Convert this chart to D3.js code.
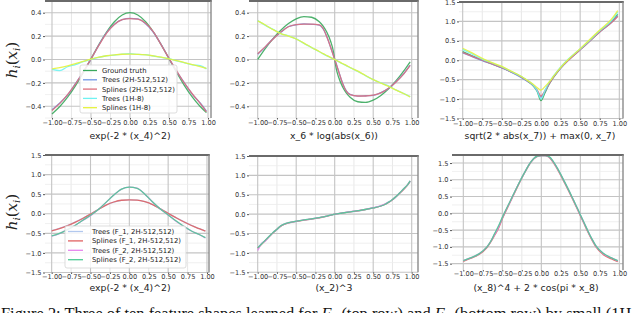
<!DOCTYPE html>
<html><head><meta charset="utf-8">
<script src="https://cdn.jsdelivr.net/npm/d3@7"></script>
<style>html,body{margin:0;padding:0;background:#fff;overflow:hidden}svg{display:block}</style>
</head><body>
<svg id="fig" width="640" height="313"></svg>
<script>
// ---------------- DATA ----------------
const xTickValues = [-1, -0.75, -0.5, -0.25, 0, 0.25, 0.5, 0.75, 1];
const yTicksSmall = [-0.4, -0.2, 0, 0.2, 0.4];
const yTicksLarge = [-1.5, -1, -0.5, 0, 0.5, 1, 1.5];
const xLabels = ["exp(-2 * (x_4)^2)", "x_6 * log(abs(x_6))", "sqrt(2 * abs(x_7)) + max(0, x_7)",
                 "exp(-2 * (x_4)^2)", "(x_2)^3", "(x_8)^4 + 2 * cos(pi * x_8)"];
const legendTop = ["Ground truth", "Trees (2H-512,512)", "Splines (2H-512,512)", "Trees (1H-8)", "Splines (1H-8)"];
const legendBottom = ["Trees (F_1, 2H-512,512)", "Splines (F_1, 2H-512,512)", "Trees (F_2, 2H-512,512)", "Splines (F_2, 2H-512,512)"];

// panel A
const xsA = [-1,-0.9,-0.8,-0.7,-0.6,-0.5,-0.4,-0.3,-0.2,-0.1,0,0.1,0.2,0.3,0.4,0.5,0.6,0.7,0.8,0.9,0.98];
const A_truth    = [-0.465,-0.402,-0.322,-0.225,-0.113,0.007,0.126,0.235,0.323,0.380,0.400,0.380,0.323,0.235,0.126,0.007,-0.113,-0.225,-0.322,-0.402,-0.454];
const A_trees2   = [-0.430,-0.372,-0.303,-0.207,-0.108,0.002,0.123,0.229,0.302,0.341,0.352,0.347,0.306,0.233,0.127,0.009,-0.104,-0.203,-0.298,-0.372,-0.442];
const A_splines2 = [-0.435,-0.375,-0.300,-0.210,-0.108,0.005,0.120,0.226,0.300,0.340,0.350,0.345,0.310,0.236,0.125,0.010,-0.100,-0.205,-0.295,-0.375,-0.447];
const A_trees1   = [-0.085,-0.095,-0.062,-0.043,-0.018,0.002,0.018,0.032,0.038,0.046,0.050,0.043,0.041,0.030,0.018,0.008,-0.012,-0.028,-0.046,-0.052,-0.080];
const A_splines1 = [-0.080,-0.070,-0.055,-0.036,-0.016,0.004,0.020,0.032,0.040,0.045,0.046,0.044,0.040,0.031,0.020,0.006,-0.010,-0.027,-0.044,-0.060,-0.076];

// panel B
const xsB = [-1,-0.9,-0.8,-0.7,-0.6,-0.5,-0.4,-0.3,-0.2,-0.15,-0.1,-0.05,-0.02,0,0.02,0.05,0.1,0.15,0.2,0.3,0.4,0.5,0.6,0.7,0.8,0.9,0.98];
const B_truth    = [0,0.095,0.179,0.250,0.307,0.347,0.367,0.361,0.322,0.285,0.230,0.150,0.078,0,-0.078,-0.150,-0.230,-0.285,-0.322,-0.361,-0.367,-0.347,-0.307,-0.250,-0.179,-0.095,-0.020];
const B_trees2   = [0.045,0.108,0.178,0.232,0.282,0.297,0.305,0.301,0.293,0.262,0.192,0.098,0.042,0.002,-0.037,-0.098,-0.198,-0.268,-0.298,-0.313,-0.310,-0.306,-0.283,-0.247,-0.188,-0.118,-0.048];
const B_splines2 = [0.050,0.110,0.175,0.235,0.280,0.298,0.303,0.303,0.295,0.265,0.190,0.100,0.040,0,-0.040,-0.100,-0.200,-0.270,-0.300,-0.312,-0.312,-0.305,-0.285,-0.245,-0.190,-0.120,-0.050];
const B_trees1   = [0.332,0.292,0.257,0.222,0.202,0.176,0.138,0.102,0.066,0.048,0.031,0.016,0.006,0.0,-0.008,-0.018,-0.036,-0.052,-0.070,-0.102,-0.138,-0.172,-0.200,-0.226,-0.262,-0.292,-0.318];
const B_splines1 = [0.330,0.295,0.255,0.222,0.200,0.175,0.140,0.103,0.068,0.050,0.033,0.016,0.006,0.0,-0.007,-0.017,-0.034,-0.050,-0.068,-0.100,-0.137,-0.172,-0.202,-0.230,-0.262,-0.293,-0.320];

// panel C
const xsC = [-1,-0.9,-0.75,-0.6,-0.5,-0.4,-0.25,-0.15,-0.1,-0.05,0,0.05,0.1,0.15,0.2,0.25,0.35,0.5,0.6,0.75,0.9,0.98];
const C_truth    = [0.22,0.13,0.0,-0.11,-0.19,-0.28,-0.43,-0.57,-0.66,-0.80,-1.04,-0.84,-0.63,-0.47,-0.33,-0.20,0.01,0.28,0.46,0.74,0.99,1.18];
const C_trees2   = [0.19,0.11,-0.01,-0.12,-0.20,-0.29,-0.45,-0.57,-0.65,-0.78,-0.95,-0.80,-0.62,-0.46,-0.33,-0.21,0.0,0.27,0.45,0.73,0.97,1.14];
const C_splines2 = [0.20,0.12,0.0,-0.11,-0.19,-0.28,-0.43,-0.56,-0.64,-0.76,-0.92,-0.79,-0.62,-0.46,-0.32,-0.20,0.0,0.27,0.45,0.73,0.97,1.13];
const C_trees1   = [0.28,0.18,0.03,-0.09,-0.17,-0.27,-0.42,-0.55,-0.64,-0.78,-1.00,-0.78,-0.58,-0.43,-0.30,-0.18,0.03,0.29,0.47,0.76,1.02,1.24];
const C_splines1 = [0.31,0.21,0.05,-0.08,-0.16,-0.26,-0.42,-0.55,-0.62,-0.70,-0.77,-0.68,-0.57,-0.44,-0.31,-0.19,0.02,0.30,0.49,0.78,1.06,1.28];

// panel D
const xsD = [-1,-0.9,-0.8,-0.7,-0.6,-0.5,-0.4,-0.3,-0.2,-0.1,0,0.1,0.2,0.3,0.4,0.5,0.6,0.7,0.8,0.9,0.98];
const D_treesF1   = [-0.43,-0.375,-0.305,-0.215,-0.115,-0.01,0.11,0.22,0.298,0.343,0.356,0.348,0.307,0.232,0.123,0.008,-0.10,-0.203,-0.298,-0.378,-0.44];
const D_splinesF1 = [-0.44,-0.38,-0.31,-0.22,-0.12,-0.01,0.11,0.22,0.30,0.345,0.355,0.35,0.31,0.235,0.125,0.01,-0.10,-0.205,-0.30,-0.38,-0.445];
const D_treesF2   = [-0.57,-0.51,-0.40,-0.30,-0.17,-0.05,0.11,0.29,0.48,0.63,0.68,0.655,0.50,0.30,0.12,-0.03,-0.19,-0.32,-0.44,-0.53,-0.62];
const D_splinesF2 = [-0.565,-0.50,-0.41,-0.30,-0.165,-0.04,0.11,0.29,0.48,0.63,0.68,0.65,0.50,0.30,0.12,-0.03,-0.18,-0.32,-0.44,-0.53,-0.61];

// panel E
const xsE = [-1,-0.95,-0.9,-0.85,-0.8,-0.75,-0.7,-0.65,-0.6,-0.5,-0.4,-0.3,-0.2,-0.1,0,0.1,0.2,0.3,0.4,0.5,0.6,0.65,0.7,0.75,0.8,0.85,0.9,0.95,0.98];
const E_treesF1   = [-0.86,-0.76,-0.67,-0.57,-0.48,-0.40,-0.31,-0.26,-0.23,-0.19,-0.15,-0.13,-0.09,-0.05,0.0,0.03,0.06,0.08,0.12,0.16,0.21,0.25,0.31,0.37,0.45,0.55,0.65,0.76,0.84];
const E_splinesF1 = [-0.88,-0.78,-0.68,-0.58,-0.48,-0.39,-0.31,-0.26,-0.225,-0.185,-0.155,-0.125,-0.095,-0.05,0.0,0.03,0.06,0.085,0.12,0.16,0.21,0.25,0.30,0.37,0.46,0.55,0.65,0.76,0.85];
const E_treesF2   = [-0.94,-0.76,-0.69,-0.58,-0.47,-0.39,-0.30,-0.25,-0.22,-0.18,-0.15,-0.12,-0.09,-0.05,0.0,0.03,0.065,0.09,0.125,0.165,0.22,0.26,0.31,0.38,0.46,0.56,0.66,0.77,0.86];
const E_splinesF2 = [-0.87,-0.77,-0.67,-0.57,-0.47,-0.39,-0.30,-0.25,-0.22,-0.18,-0.15,-0.12,-0.09,-0.05,0.0,0.03,0.06,0.09,0.12,0.16,0.21,0.25,0.31,0.38,0.46,0.56,0.66,0.77,0.86];

// panel F
const xsF = [-1,-0.9,-0.8,-0.7,-0.65,-0.6,-0.55,-0.5,-0.4,-0.3,-0.2,-0.15,-0.1,-0.05,0,0.05,0.1,0.15,0.2,0.3,0.4,0.5,0.55,0.6,0.65,0.7,0.8,0.9,0.98];
const F_treesF1   = [-1.42,-1.33,-1.22,-1.02,-0.85,-0.62,-0.41,-0.15,0.34,0.83,1.27,1.47,1.62,1.70,1.72,1.72,1.68,1.55,1.37,0.93,0.46,-0.04,-0.29,-0.54,-0.77,-0.97,-1.21,-1.34,-1.42];
const F_splinesF1 = [-1.43,-1.34,-1.23,-1.03,-0.86,-0.66,-0.45,-0.16,0.33,0.82,1.27,1.47,1.62,1.70,1.72,1.72,1.67,1.53,1.34,0.90,0.43,-0.07,-0.32,-0.57,-0.80,-1.00,-1.24,-1.36,-1.44];
const F_treesF2   = [-1.41,-1.32,-1.21,-1.01,-0.84,-0.64,-0.42,-0.13,0.35,0.84,1.28,1.48,1.63,1.71,1.72,1.72,1.68,1.55,1.36,0.92,0.45,-0.05,-0.30,-0.55,-0.78,-0.98,-1.21,-1.33,-1.42];
const F_splinesF2 = [-1.41,-1.32,-1.21,-1.01,-0.84,-0.61,-0.38,-0.12,0.36,0.84,1.28,1.48,1.63,1.71,1.72,1.72,1.69,1.56,1.37,0.93,0.46,-0.04,-0.29,-0.54,-0.77,-0.97,-1.20,-1.33,-1.41];

// ---------------- STYLE / LAYOUT ----------------
const colTop = ["#3aa85c", "#6f95e6", "#dc6f7c", "#6ff2f2", "#e6f23c"];
const colBot = ["#b2c8ee", "#e06262", "#e684ee", "#4ecb94"];

const panels = [
  {xs: xsA, series: [A_truth, A_trees2, A_splines2, A_trees1, A_splines1], colors: colTop,
   left: 45, right: 211, top: 1, bottom: 118, xd: [-1.0897, 1.0385], yd: [-0.5, 0.5],
   yticks: yTicksSmall, ystep: 0.1, label: xLabels[0], labelX: 130, labelY: 138.8, ylab: true, ylabY: 60, legend: legendTop},
  {xs: xsB, series: [B_truth, B_trees2, B_splines2, B_trees1, B_splines1], colors: colTop,
   left: 249, right: 418, top: 1, bottom: 118, xd: [-1.113, 1.0818], yd: [-0.5, 0.5],
   yticks: yTicksSmall, ystep: 0.1, label: xLabels[1], labelX: 334, labelY: 138.8},
  {xs: xsC, series: [C_truth, C_trees2, C_splines2, C_trees1, C_splines1], colors: colTop,
   left: 459, right: 623, top: 2, bottom: 118.5, xd: [-1.047, 1.047], yd: [-1.5, 1.5],
   yticks: yTicksLarge, ystep: 0.25, label: xLabels[2], labelX: 540, labelY: 138.8},
  {xs: xsD, series: [D_treesF1, D_splinesF1, D_treesF2, D_splinesF2], colors: colBot,
   left: 45, right: 209, top: 155, bottom: 272.5, xd: [-1.086, 1.026], yd: [-1.5, 1.5],
   yticks: yTicksLarge, ystep: 0.25, label: xLabels[3], labelX: 130, labelY: 290.5, ylab: true, ylabY: 212, legend: legendBottom},
  {xs: xsE, series: [E_treesF1, E_splinesF1, E_treesF2, E_splinesF2], colors: colBot,
   left: 249, right: 418, top: 156, bottom: 272.3, xd: [-1.113, 1.0818], yd: [-1.5, 1.5],
   yticks: yTicksLarge, ystep: 0.25, label: xLabels[4], labelX: 334, labelY: 290.5},
  {xs: xsF, series: [F_treesF1, F_splinesF1, F_treesF2, F_splinesF2], colors: colBot,
   left: 452, right: 623, top: 155, bottom: 270, xd: [-1.145, 1.047], yd: [-1.69, 1.74],
   yticks: yTicksLarge, ystep: 0.25, label: xLabels[5], labelX: 536, labelY: 290.5}
];

const svg = d3.select("#fig");
const FONT = "DejaVu Sans, sans-serif";

panels.forEach((p, pi) => {
  const x = d3.scaleLinear().domain(p.xd).range([p.left, p.right]);
  const y = d3.scaleLinear().domain(p.yd).range([p.bottom, p.top]);
  const g = svg.append("g");
  const bottomRow = pi >= 3;

  // grid
  const xMinor = d3.range(-1.25, 1.26, 0.25).filter(v => v >= p.xd[0] && v <= p.xd[1] && Math.abs(v*2 - Math.round(v*2)) > 1e-6);
  const xMajor = d3.range(-1, 1.01, 0.5);
  const yAll = d3.range(Math.ceil(p.yd[0]/p.ystep)*p.ystep, p.yd[1] + 1e-9, p.ystep);
  const yMinor = yAll.filter(v => !p.yticks.some(t => Math.abs(t - v) < 1e-6));
  g.selectAll(".xmin").data(xMinor).join("line")
    .attr("x1", d => x(d)).attr("x2", d => x(d)).attr("y1", p.top).attr("y2", p.bottom)
    .attr("stroke", "#e2e2e2").attr("stroke-width", 0.8);
  g.selectAll(".ymin").data(yMinor).join("line")
    .attr("x1", p.left).attr("x2", p.right).attr("y1", d => y(d)).attr("y2", d => y(d))
    .attr("stroke", "#ececec").attr("stroke-width", 0.8);
  g.selectAll(".xmaj").data(xMajor).join("line")
    .attr("x1", d => x(d)).attr("x2", d => x(d)).attr("y1", p.top).attr("y2", p.bottom)
    .attr("stroke", "#c4c4c4").attr("stroke-width", 1.1);
  g.selectAll(".ymaj").data(p.yticks).join("line")
    .attr("x1", p.left).attr("x2", p.right).attr("y1", d => y(d)).attr("y2", d => y(d))
    .attr("stroke", "#c4c4c4").attr("stroke-width", 1.1);

  // clip
  const cid = "clip" + pi;
  svg.append("clipPath").attr("id", cid).append("rect")
    .attr("x", p.left).attr("y", p.top).attr("width", p.right - p.left).attr("height", p.bottom - p.top);

  const line = d3.line().x((d, i) => x(p.xs[i])).y(d => y(d)).curve(d3.curveMonotoneX);
  const lg = g.append("g").attr("clip-path", `url(#${cid})`);
  p.series.forEach((s, si) => {
    lg.append("path").attr("d", line(s)).attr("fill", "none")
      .attr("stroke", p.colors[si]).attr("stroke-width", 1.3).attr("stroke-opacity", 0.9);
  });

  // spines (top & right)
  g.append("line").attr("x1", p.left).attr("x2", p.right + 0.8).attr("y1", p.top).attr("y2", p.top)
    .attr("stroke", "#6a6a6a").attr("stroke-width", 2);
  g.append("line").attr("x1", p.right).attr("x2", p.right).attr("y1", p.top).attr("y2", p.bottom)
    .attr("stroke", "#8a8a8a").attr("stroke-width", 1.4);

  // axes
  const ax = d3.axisBottom(x).tickValues(xTickValues).tickSize(1.5).tickPadding(bottomRow ? 0.3 : 1).tickFormat(d3.format(".2f"));
  const ay = d3.axisLeft(y).tickValues(p.yticks).tickSize(2).tickPadding(1.5).tickFormat(d3.format(".1f"));
  const gx = g.append("g").attr("transform", `translate(0,${p.bottom})`).call(ax);
  const gy = g.append("g").attr("transform", `translate(${p.left},0)`).call(ay);
  [gx, gy].forEach(a => {
    a.select(".domain").remove();
    a.selectAll("line").attr("stroke", "#555");
    a.selectAll("text").attr("fill", "#333").style("font-family", FONT).style("font-size", "6.6px");
  });

  // x label
  g.append("text").attr("x", p.labelX).attr("y", p.labelY).attr("text-anchor", "middle")
    .style("font-family", FONT).style("font-size", "9.3px").attr("fill", "#222").text(p.label);

  // y label
  if (p.ylab) {
    const t = g.append("text").attr("transform", `translate(17,${p.ylabY}) rotate(-90)`)
      .attr("text-anchor", "middle").style("font-family", "DejaVu Serif, serif").style("font-style", "italic")
      .style("font-size", "15px").attr("fill", "#222");
    t.append("tspan").text("h");
    t.append("tspan").attr("dy", 3).style("font-size", "10px").text("i");
    t.append("tspan").attr("dy", -3).style("font-style", "normal").text("(");
    t.append("tspan").text("x");
    t.append("tspan").attr("dy", 3).style("font-size", "10px").text("i");
    t.append("tspan").attr("dy", -3).style("font-style", "normal").text(")");
  }

  // legend
  if (p.legend) {
    const top = pi === 0;
    const lx = top ? 80 : 65, ly = top ? 65 : 226;
    const lw = top ? 97 : 121, lh = top ? 48 : 42;
    const rowH = top ? 9.3 : 9.4;
    const leg = g.append("g");
    leg.append("rect").attr("x", lx).attr("y", ly).attr("width", lw).attr("height", lh).attr("rx", 2)
      .attr("fill", "#fff").attr("fill-opacity", 0.85).attr("stroke", "#d4d4d4").attr("stroke-width", 0.8);
    p.legend.forEach((name, i) => {
      const cy = ly + 5.5 + i * rowH;
      const sx = lx + 3;
      const sl = top ? 14 : 15;
      leg.append("line").attr("x1", sx).attr("x2", sx + sl).attr("y1", cy).attr("y2", cy)
        .attr("stroke", p.colors[i]).attr("stroke-width", 1.3);
      leg.append("text").attr("x", sx + sl + (top ? 5 : 9)).attr("y", cy + 2.4)
        .style("font-family", FONT).style("font-size", "6.9px").attr("fill", "#222").text(name);
    });
  }
});

// caption (partly cut by the bottom edge, as in the reference)
const cap = svg.append("text").attr("x", 1).attr("y", 318.5)
  .style("font-family", "Liberation Serif, serif").style("font-size", "16.4px").attr("fill", "#111");
cap.append("tspan").text("Figure 2: Three of ten feature shapes learned for ");
cap.append("tspan").style("font-style", "italic").text("F");
cap.append("tspan").attr("dy", 2.5).style("font-size", "11.5px").text("1");
cap.append("tspan").attr("dy", -2.5).text(" (top row) and ");
cap.append("tspan").style("font-style", "italic").text("F");
cap.append("tspan").attr("dy", 2.5).style("font-size", "11.5px").text("2");
cap.append("tspan").attr("dy", -2.5).text(" (bottom row) by small (1H");
</script>
</body></html>
